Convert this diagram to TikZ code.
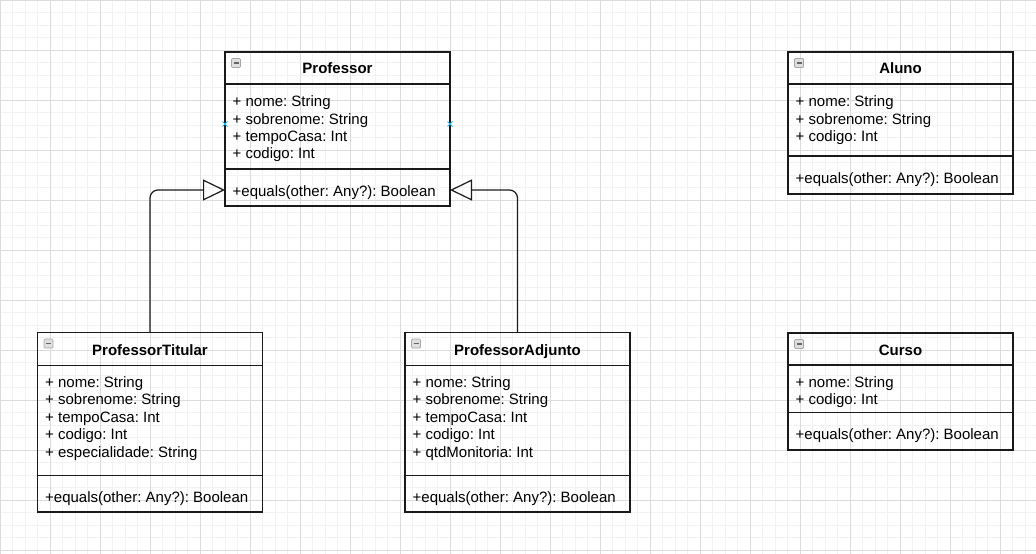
\documentclass[tikz,border=0pt]{standalone}
\usepackage{fontspec}
\setmainfont{Liberation Sans}
\usetikzlibrary{arrows.meta,shapes.misc,calc}
\definecolor{gridminor}{HTML}{F2F2F2}
\definecolor{gridmajor}{HTML}{DCDCDC}
\definecolor{linecol}{HTML}{1A1A1A}
\definecolor{xblue}{HTML}{29B6F2}
\tikzset{
  classbox/.style={rectangle, draw=linecol, line width=1.2pt, inner sep=0pt, outer sep=0pt, anchor=north west},
  sepline/.style={draw=linecol, line width=1.2pt},
  classtitle/.style={anchor=base, inner sep=0pt, font=\fontsize{15}{17}\selectfont\bfseries},
  attr/.style={anchor=base west, inner sep=0pt, font=\fontsize{15}{17}\selectfont},
  minusicon/.style={rectangle, rounded corners=1pt, minimum size=9pt, inner sep=0pt, fill=gray!25, draw=gray!70, line width=0.7pt,
    path picture={\draw[black!60, line width=1.3pt] ($(path picture bounding box.west)+(2pt,0)$) -- ($(path picture bounding box.east)+(-2pt,0)$);}},
  bluex/.style={cross out, draw=xblue, line width=1pt, minimum size=4pt, inner sep=0pt},
  inherit/.style={draw=linecol, line width=1.2pt, rounded corners=8pt, -{Triangle[open, length=22pt, width=21pt]}}
}
\begin{document}
\frenchspacing
\begin{tikzpicture}[x=1pt,y=-1pt]
\useasboundingbox (0,0) rectangle (1036,554);
% grid
\draw[gridminor, line width=1pt, step=12.5pt] (0,0) grid (1036,554);
\draw[gridmajor, line width=1pt, step=50pt] (0,0) grid (1036,554);

% ---------- Professor ----------
\node[classbox, minimum width=225pt, minimum height=154pt] (prof) at (225,52) {};
\node[minusicon] (profM) at (236,63) {};
\node[classtitle] (profT) at (337.5,73) {Professor};
\draw[sepline] (225,84) -- (450,84);
\node[attr] (profA1) at (232.5,106.7) {+ nome: String};
\node[attr] (profA2) at (232.5,124.1) {+ sobrenome: String};
\node[attr] (profA3) at (232.5,141.5) {+ tempoCasa: Int};
\node[attr] (profA4) at (232.5,158.9) {+ codigo: Int};
\draw[sepline] (225,169) -- (450,169);
\node[attr] (profE) at (232.5,196.5) {+equals(other: Any?): Boolean};
\node[bluex] (profX1) at (225,124) {};
\node[bluex] (profX2) at (450,124) {};

% ---------- Aluno ----------
\node[classbox, minimum width=225pt, minimum height=142pt] (aluno) at (788,52) {};
\node[minusicon] (alunoM) at (799,63) {};
\node[classtitle] (alunoT) at (900.5,73) {Aluno};
\draw[sepline] (788,84) -- (1013,84);
\node[attr] (alunoA1) at (795.5,106.7) {+ nome: String};
\node[attr] (alunoA2) at (795.5,124.1) {+ sobrenome: String};
\node[attr] (alunoA3) at (795.5,141.5) {+ codigo: Int};
\draw[sepline] (788,156) -- (1013,156);
\node[attr] (alunoE) at (795.5,183) {+equals(other: Any?): Boolean};

% ---------- ProfessorTitular ----------
\node[classbox, minimum width=225pt, minimum height=179.5pt] (pt) at (37.5,332.5) {};
\node[minusicon] (ptM) at (48.5,343.5) {};
\node[classtitle] (ptT) at (150,355) {ProfessorTitular};
\draw[sepline] (37.5,365.5) -- (262.5,365.5);
\node[attr] (ptA1) at (45,387.5) {+ nome: String};
\node[attr] (ptA2) at (45,404.9) {+ sobrenome: String};
\node[attr] (ptA3) at (45,422.3) {+ tempoCasa: Int};
\node[attr] (ptA4) at (45,439.7) {+ codigo: Int};
\node[attr] (ptA5) at (45,457.1) {+ especialidade: String};
\draw[sepline] (37.5,475.5) -- (262.5,475.5);
\node[attr] (ptE) at (45,502) {+equals(other: Any?): Boolean};

% ---------- ProfessorAdjunto ----------
\node[classbox, minimum width=225pt, minimum height=179.5pt] (pa) at (405,332.5) {};
\node[minusicon] (paM) at (416,343.5) {};
\node[classtitle] (paT) at (517.5,355) {ProfessorAdjunto};
\draw[sepline] (405,365.5) -- (630,365.5);
\node[attr] (paA1) at (412.5,387.5) {+ nome: String};
\node[attr] (paA2) at (412.5,404.9) {+ sobrenome: String};
\node[attr] (paA3) at (412.5,422.3) {+ tempoCasa: Int};
\node[attr] (paA4) at (412.5,439.7) {+ codigo: Int};
\node[attr] (paA5) at (412.5,457.1) {+ qtdMonitoria: Int};
\draw[sepline] (405,475.5) -- (630,475.5);
\node[attr] (paE) at (412.5,502) {+equals(other: Any?): Boolean};

% ---------- Curso ----------
\node[classbox, minimum width=225pt, minimum height=117pt] (curso) at (788,333) {};
\node[minusicon] (cursoM) at (799,344) {};
\node[classtitle] (cursoT) at (900.5,355) {Curso};
\draw[sepline] (788,365) -- (1013,365);
\node[attr] (cursoA1) at (795.5,387.5) {+ nome: String};
\node[attr] (cursoA2) at (795.5,404.9) {+ codigo: Int};
\draw[sepline] (788,412.5) -- (1013,412.5);
\node[attr] (cursoE) at (795.5,439.5) {+equals(other: Any?): Boolean};

% ---------- inheritance ----------
\coordinate (profL) at (225,190);
\coordinate (profR) at (450,190);
\draw[inherit] (pt.north) |- (profL);
\draw[inherit] (pa.north) |- (profR);
\end{tikzpicture}
\end{document}
